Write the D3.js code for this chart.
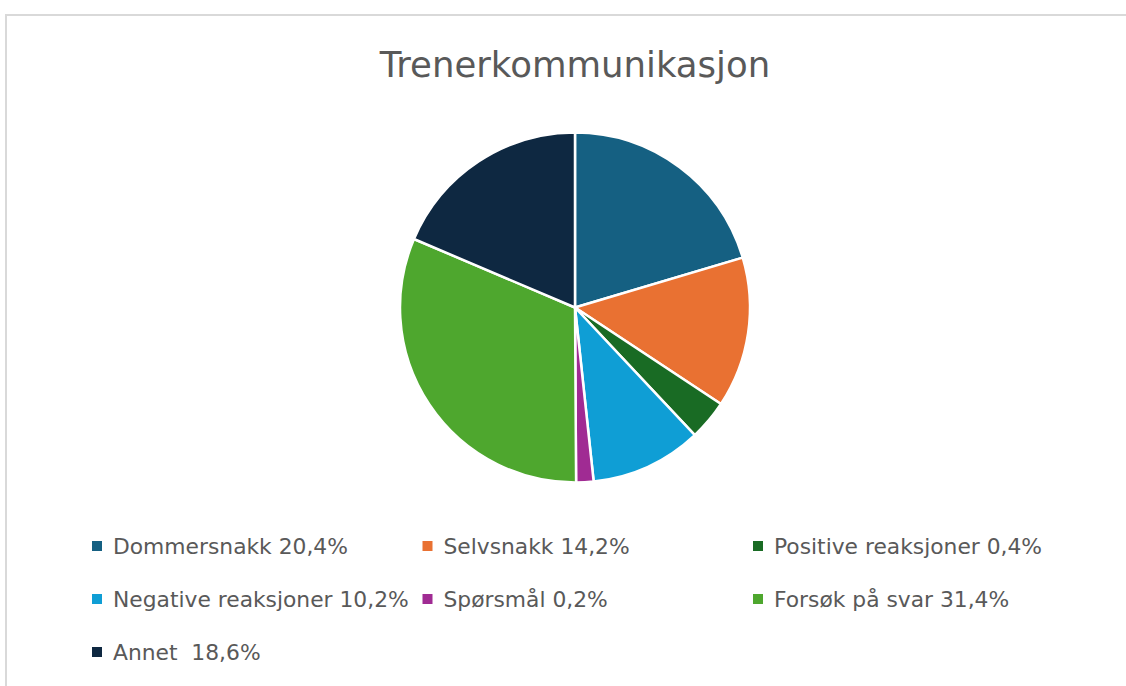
<!DOCTYPE html>
<html>
<head>
<meta charset="utf-8">
<script src="https://cdn.jsdelivr.net/npm/d3@7"></script>
<style>
  body { margin: 0; background: #fff; }
  .chart_heading { font-family: "DejaVu Sans", sans-serif; fill: #595959; }
  .legend text { font-family: "DejaVu Sans", sans-serif; fill: #595959; }
</style>
</head>
<body>
<div class="pie_one"></div>
<script>

const categories = ["Dommersnakk", "Selvsnakk", "Positive reaksjoner", "Negative reaksjoner", "Spørsmål", "Forsøk på svar", "Annet"]

// slice sizes (the legend labels carry their own text)
const shares = [20.4, 13.9, 3.7, 10.3, 1.6, 31.5, 18.6]

const legendLabels = ["Dommersnakk 20,4%", "Selvsnakk 14,2%", "Positive reaksjoner 0,4%", "Negative reaksjoner 10,2%", "Spørsmål 0,2%", "Forsøk på svar 31,4%", "Annet  18,6%"]

const colors = ["#156082", "#e97132", "#196b24", "#0f9ed5", "#a02b93", "#4ea72e", "#0e2841"]

function drawPie () {

  let dimensions = {
    width: 1126,
    height: 686,
    radius: 175,
    cx: 575,
    cy: 307.5,
  }

  const wrapper = d3.select(".pie_one")
    .append("svg")
    .attr("width", dimensions.width)
    .attr("height", dimensions.height)

  // chart area frame
  wrapper.append("rect")
    .attr("x", 6)
    .attr("y", 15)
    .attr("width", 1140)
    .attr("height", 700)
    .attr("fill", "none")
    .attr("stroke", "#d9d9d9")
    .attr("stroke-width", 2)

  wrapper.append("text")
    .attr("class", "chart_heading")
    .attr("x", dimensions.cx)
    .attr("y", 77)
    .attr("text-anchor", "middle")
    .style("font-size", "35.5px")
    .text("Trenerkommunikasjon")

  const dataset = categories.map((c, i) => ({ name: c, value: shares[i] }))

  const color = d3.scaleOrdinal()
    .domain(categories)
    .range(colors)

  const pie = d3.pie()
    .sort(null)
    .value(d => d.value)

  const arc = d3.arc()
    .innerRadius(0)
    .outerRadius(dimensions.radius)

  const bounds = wrapper.append("g")
    .attr("transform", `translate(${dimensions.cx},${dimensions.cy})`)

  bounds.selectAll("path")
    .data(pie(dataset))
    .join("path")
    .attr("d", arc)
    .attr("fill", d => color(d.data.name))
    .attr("stroke", "#fff")
    .attr("stroke-width", 2.5)
    .attr("stroke-linejoin", "round")

  // legend, three per row
  const colX = d3.scalePoint()
    .domain([0, 1, 2])
    .range([92, 753])
  const rowY = d3.scalePoint()
    .domain([0, 1, 2])
    .range([546, 652])

  const legend = wrapper.append("g")
    .attr("class", "legend")

  const items = legend.selectAll("g")
    .data(categories)
    .join("g")
    .attr("transform", (d, i) => `translate(${colX(i % 3)},${rowY(Math.floor(i / 3))})`)

  items.append("rect")
    .attr("x", 0)
    .attr("y", -5)
    .attr("width", 10)
    .attr("height", 10)
    .attr("fill", d => color(d))

  items.append("text")
    .attr("x", 21)
    .attr("y", 0)
    .attr("dy", "0.35em")
    .style("font-size", "21.8px")
    .style("white-space", "pre")
    .attr("xml:space", "preserve")
    .text((d, i) => legendLabels[i])
}

drawPie()
</script>
</body>
</html>
